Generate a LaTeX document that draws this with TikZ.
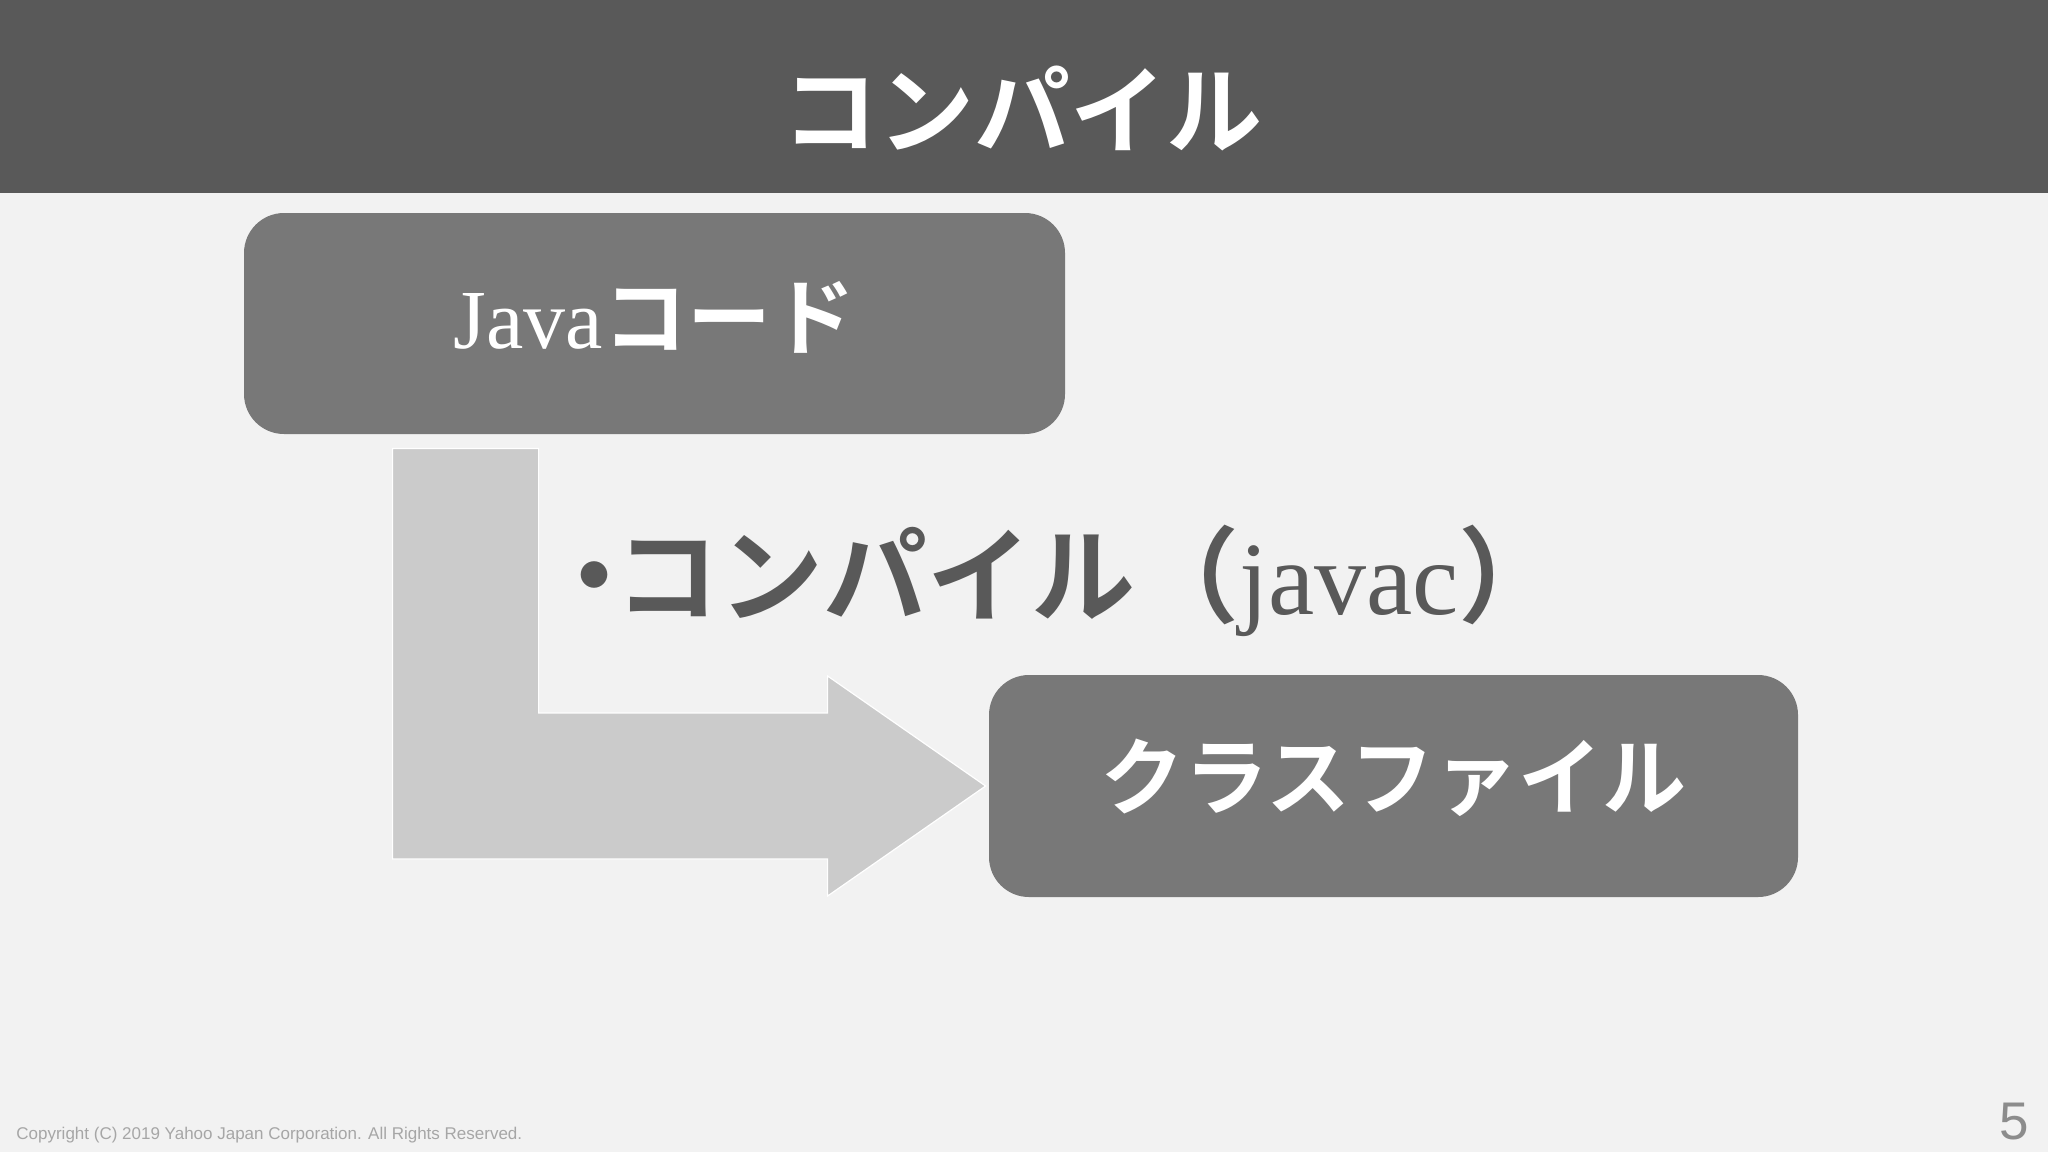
\documentclass[tikz,border=0pt]{standalone}
\usepackage{fontspec}
\setmainfont{Liberation Serif}
\setsansfont{Liberation Sans}
\newfontfamily\jp{Noto Sans CJK JP}[UprightFont=* Bold]
\usetikzlibrary{positioning,calc}
\definecolor{barcolor}{HTML}{595959}
\definecolor{boxcolor}{HTML}{787878}
\definecolor{arrowcolor}{HTML}{CBCBCB}
\definecolor{slidecolor}{HTML}{F2F2F2}
\definecolor{notecolor}{HTML}{A6A6A6}
\definecolor{numcolor}{HTML}{8C8C8C}

\begin{document}
\begin{tikzpicture}[x=0.5pt,y=-0.5pt]
    \newcommand{\jpsize}[1]{\fontsize{#1}{#1}\selectfont}
    \tikzstyle{block}=[
      fill=boxcolor,
      rounded corners=20pt,
      minimum width=410.5pt,
      minimum height=110.5pt,
      inner sep=0pt,
    ]
    \tikzstyle{blocktext}=[
      anchor=base,
      inner sep=0pt,
      text=white,
      font=\jpsize{42},
    ]
    \tikzstyle{headline}=[
      anchor=base,
      inner sep=0pt,
      text=white,
      font=\jp\jpsize{48},
    ]
    \tikzstyle{bullet}=[
      anchor=base west,
      inner sep=0pt,
      text=barcolor,
      font=\jpsize{52},
    ]
    \tikzstyle{bigarrow}=[
      fill=arrowcolor,
      draw=white,
      line width=0.6pt,
    ]
    \tikzstyle{footer}=[
      inner sep=0pt,
      font=\sffamily,
    ]

    \path[use as bounding box,fill=slidecolor] (0,0) rectangle (2048,1152);
    \fill[barcolor] (0,0) rectangle (2048,193);
    \node[headline] (title) at (1022,146.5) {コンパイル};

    \node[block] (java box) at (654.5,323.5) {};
    \node[blocktext] (java label) at ([yshift=-12.25pt]java box.center) {Java{\jp コード}};

    \node[block,minimum width=404.5pt,minimum height=111pt] (class box) at (1393.5,786) {};
    \node[blocktext] (class label) at ([yshift=-11pt]class box.center) {\jp クラスファイル};

    \node[bullet] (javac note) at (542,614.5) {{\jp ・\hspace{-0.3em}コンパイル（}javac{\jp ）}};

    \coordinate (arrow start) at ([xshift=111pt,yshift=-7pt]java box.south west);
    \coordinate (arrow tip) at ([xshift=-1.5pt]class box.west);
    \draw[bigarrow] ([xshift=-36.5pt]arrow start)
      -- ([xshift=36.5pt]arrow start)
      -- ([xshift=36.5pt,yshift=36.5pt]arrow start |- arrow tip)
      -- ([xshift=-79pt,yshift=36.5pt]arrow tip)
      -- ([xshift=-79pt,yshift=55pt]arrow tip)
      -- (arrow tip)
      -- ([xshift=-79pt,yshift=-55pt]arrow tip)
      -- ([xshift=-79pt,yshift=-36.5pt]arrow tip)
      -- ([xshift=-36.5pt,yshift=-36.5pt]arrow start |- arrow tip)
      -- cycle;

    \node[footer,anchor=base west,text=notecolor,font=\sffamily\fontsize{8.5}{10}\selectfont] (copyright) at (16,1139) {Copyright (C) 2019 Yahoo Japan Corporation. All Rights Reserved.};
    \node[footer,anchor=base east,text=numcolor,font=\sffamily\fontsize{26.5}{30}\selectfont] (page number) at (2029,1139) {5};
\end{tikzpicture}
\end{document}
